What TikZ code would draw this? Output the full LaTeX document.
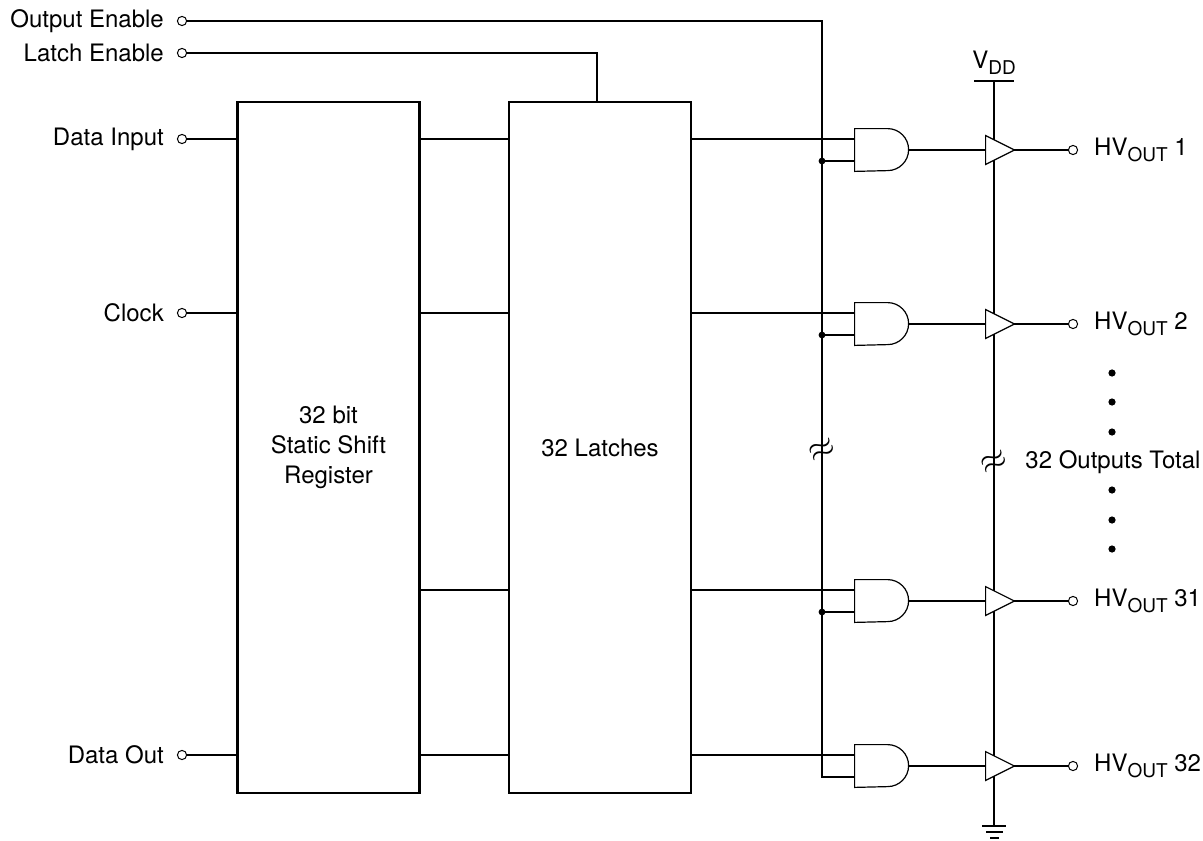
\documentclass[tikz,border=0pt]{standalone}
\usepackage{fontspec}
\setmainfont{TeX Gyre Heros}
\usetikzlibrary{positioning}

\newcommand{\lowsub}[1]{\raisebox{-0.45ex}{\fontsize{9.5}{10}\selectfont #1}}

\tikzset{
  wire/.style={line width=0.6pt},
  block/.style={draw, line width=1.1pt, minimum width=91pt, minimum height=345.5pt,
                align=center, inner sep=0pt},
  pin/.style={circle, draw, line width=0.5pt, fill=white, minimum size=4.6pt, inner sep=0pt},
  joint/.style={circle, fill=black, minimum size=3.4pt, inner sep=0pt},
  gatebox/.style={minimum width=27pt, minimum height=21pt, inner sep=0pt},
  bufbox/.style={minimum width=14pt, minimum height=14pt, inner sep=0pt},
  bigdot/.style={circle, fill=black, minimum size=3.6pt, inner sep=0pt},
  breakmark/.style={rotate=25, inner sep=0pt, font=\fontsize{16}{16}\selectfont},
}

\begin{document}
\begin{tikzpicture}[x=0.5pt, y=-0.5pt, font=\fontsize{12}{15}\selectfont]
\useasboundingbox (0,0) rectangle (1203,840);

% the two blocks
\node[block] (reg) at (328.5,447.5) {32 bit\\Static Shift\\Register};
\node[block] (latch) at (600,447.5) {32 Latches};

% input pins
\node[pin, label={[label distance=3pt]left:Output Enable}] (oe) at (182,21) {};
\node[pin, label={[label distance=3pt]left:Latch Enable}] (le) at (182,53) {};
\node[pin, label={[label distance=3pt]left:Data Input}] (din) at (182,139) {};
\node[pin, label={[label distance=3pt]left:Clock}] (clk) at (182,313) {};
\node[pin, label={[label distance=3pt]left:Data Out}] (dout) at (182,755) {};

\draw[wire] (din) -- (din -| reg.west);
\draw[wire] (clk) -- (clk -| reg.west);
\draw[wire] (dout) -- (dout -| reg.west);

\coordinate (leend) at (597,102);
\draw[wire] (le) -| (leend);

% supply rail
\coordinate (vddtop) at (994,81);
\coordinate (gnd) at (994,826);
\draw[wire] (vddtop) -- (gnd);
\draw[wire] (974,81) -- (1014,81);
\node (vdd) at (994,63) {V\lowsub{DD}};
\draw[wire] (982,826) -- (1006,826);
\draw[wire] (986,832) -- (1003,832);
\draw[wire] (990,838) -- (999,838);

% output enable bus
\coordinate (oebend) at (822,777);

\foreach \i/\y/\n in {1/139/1, 2/313/2, 3/590/31, 4/755/32} {
  \coordinate (r\i) at (0,\y);
  \coordinate (lo\i) at (0,\y+22);
  \node[gatebox] (and\i) at (882,\y+11) {};
  \node[bufbox] (buf\i) at (1000,\y+11) {};
  \node[pin, label={[label distance=4.5pt]right:HV\lowsub{OUT} \n}] (out\i) at (1073,\y+11) {};
  \draw[wire] (reg.east |- r\i) -- (latch.west |- r\i);
  \draw[wire] (latch.east |- r\i) -- (and\i.west |- r\i);
  \draw[wire] (and\i.north west) -- ++(33,0) arc (-90:90:21) -- (and\i.south west) -- cycle;
  \draw[wire] (and\i.east) -- (buf\i.west);
  \draw[wire, fill=white] (buf\i.north west) -- (buf\i.east) -- (buf\i.south west) -- cycle;
  \draw[wire] (buf\i.east) -- (out\i);
}
\draw[wire] (oe) -| (oebend) -- (and4.west |- oebend);
\foreach \i in {1,2,3} {
  \draw[wire] (oebend |- lo\i) -- (and\i.west |- lo\i);
  \node[joint] at (oebend |- lo\i) {};
}

% breaks and the note
\node[breakmark] (brk1) at (822,450) {$\approx$};
\node[breakmark] (brk2) at (994,462) {$\approx$};
\node[anchor=west, inner sep=0pt] (total) at (1025,462) {32 Outputs Total};
\foreach \y in {373,402,432,490,520,549}
  \node[bigdot] at (1112,\y) {};
\end{tikzpicture}
\end{document}
